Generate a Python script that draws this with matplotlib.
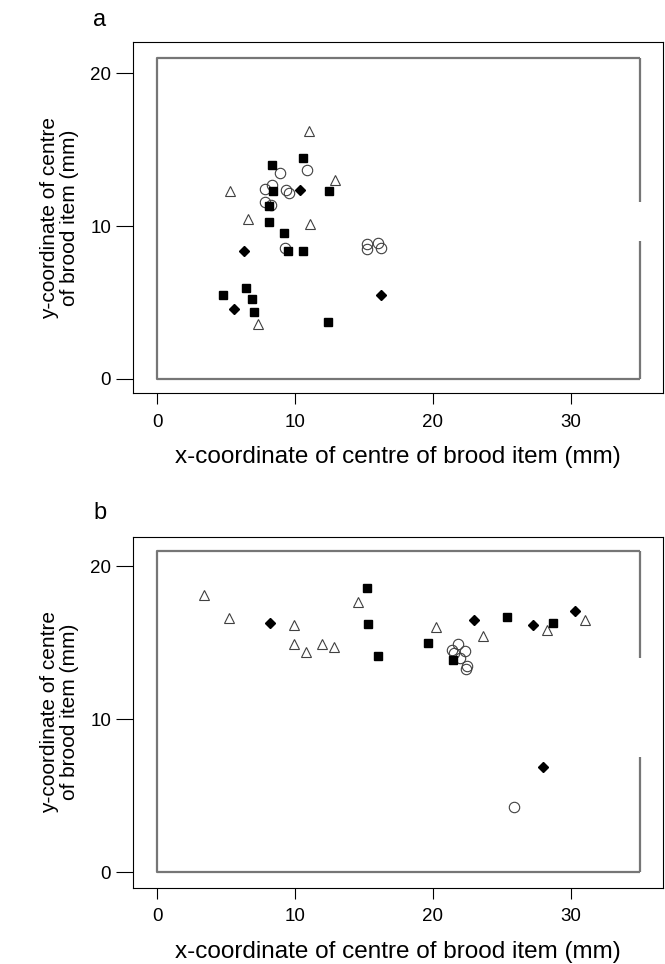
import matplotlib.pyplot as plt

plt.rcParams['font.family'] = ['Liberation Sans', 'DejaVu Sans']

# panel a
a_sq_x = [10.6, 8.3, 8.4, 12.5, 8.1, 8.1, 9.2, 9.5, 10.6, 6.45, 4.8, 6.9, 7.0, 12.4]
a_sq_y = [14.45, 14.0, 12.3, 12.3, 11.35, 10.25, 9.55, 8.35, 8.35, 5.95, 5.5, 5.2, 4.35, 3.75]
a_tri_x = [11.0, 12.9, 5.3, 6.6, 11.1, 7.3]
a_tri_y = [16.25, 13.0, 12.3, 10.45, 10.15, 3.6]
a_dia_x = [10.35, 6.3, 5.6, 16.2]
a_dia_y = [12.35, 8.35, 4.55, 5.5]
a_cir_x = [8.9, 10.85, 8.35, 7.85, 9.35, 9.55, 7.85, 8.25, 9.3, 15.25, 16.0, 15.25, 16.2]
a_cir_y = [13.5, 13.7, 12.7, 12.4, 12.35, 12.15, 11.55, 11.4, 8.6, 8.8, 8.9, 8.5, 8.55]

# panel b
b_sq_x = [15.25, 15.3, 16.0, 19.65, 25.4, 28.7, 21.45]
b_sq_y = [18.55, 16.2, 14.1, 14.95, 16.7, 16.3, 13.9]
b_tri_x = [3.4, 5.25, 9.95, 9.9, 10.8, 11.95, 12.85, 14.6, 20.25, 23.6, 28.3, 31.0]
b_tri_y = [18.1, 16.6, 16.15, 14.9, 14.4, 14.9, 14.7, 17.65, 16.0, 15.45, 15.85, 16.5]
b_dia_x = [8.2, 23.0, 27.25, 30.3, 27.95]
b_dia_y = [16.3, 16.5, 16.15, 17.1, 6.85]
b_cir_x = [21.8, 21.35, 22.3, 21.5, 21.95, 22.5, 22.4, 25.9]
b_cir_y = [14.9, 14.55, 14.45, 14.3, 14.0, 13.45, 13.25, 4.25]

# arena walls (gap on right side)
a_gap = (9.0, 11.6)
b_gap = (7.5, 14.0)

fig = plt.figure(figsize=(6.65, 9.64), dpi=100)


def panel(ax, sq, tri, dia, cir, gap, ylim):
    wall = dict(color='#767676', lw=1.6, solid_capstyle='butt')
    ax.plot([35, 0, 0, 35], [21, 21, 0, 0], **wall)
    ax.plot([35, 35], [21, gap[1]], **wall)
    ax.plot([35, 35], [gap[0], 0], **wall)
    ax.plot(tri[0], tri[1], '^', ms=7, mfc='white', mec='#404040', mew=0.8, ls='none')
    ax.plot(cir[0], cir[1], 'o', ms=7.5, mfc='none', mec='#404040', mew=0.8, ls='none')
    ax.plot(sq[0], sq[1], 's', ms=6, mfc='black', mec='black', ls='none')
    ax.plot(dia[0], dia[1], 'D', ms=5.5, mfc='black', mec='black', ls='none')
    ax.set_xlim(-1.72, 36.7)
    ax.set_ylim(*ylim)
    ax.set_xticks([0, 10, 20, 30])
    ax.set_yticks([0, 10, 20])
    ax.tick_params(axis='x', length=8, width=0.8, pad=7, labelsize=13.5)
    ax.tick_params(axis='y', length=12, width=0.8, pad=4, labelsize=13.5)
    for s in ax.spines.values():
        s.set_linewidth(0.8)
    ax.set_xlabel('x-coordinate of centre of brood item (mm)', fontsize=17.5, labelpad=11)
    ax.set_ylabel('y-coordinate of centre\nof brood item (mm)', fontsize=15, labelpad=8,
                  linespacing=1.05)


ax1 = fig.add_axes([0.2005, 0.592, 0.797, 0.3641])
panel(ax1, (a_sq_x, a_sq_y), (a_tri_x, a_tri_y), (a_dia_x, a_dia_y),
      (a_cir_x, a_cir_y), a_gap, (-0.94, 22.03))

ax2 = fig.add_axes([0.2005, 0.0792, 0.797, 0.3641])
panel(ax2, (b_sq_x, b_sq_y), (b_tri_x, b_tri_y), (b_dia_x, b_dia_y),
      (b_cir_x, b_cir_y), b_gap, (-1.01, 21.93))

fig.text(0.150, 0.991, 'a', fontsize=17, va='top', ha='center')
fig.text(0.150, 0.479, 'b', fontsize=17, va='top', ha='center')

fig.savefig('out.png', dpi=100)
